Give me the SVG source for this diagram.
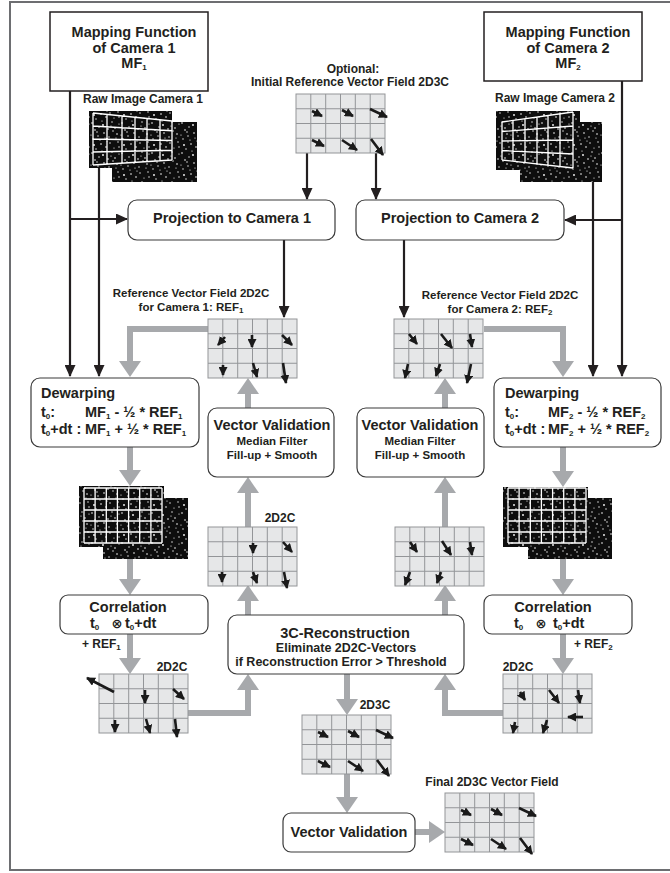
<svg xmlns="http://www.w3.org/2000/svg" xmlns:xlink="http://www.w3.org/1999/xlink" width="670" height="873" viewBox="0 0 670 873">
<style>
text{font-family:"Liberation Sans",Arial,Helvetica,sans-serif;font-weight:bold;fill:#231f20}
.h{font-size:14.5px}
.s{font-size:12px}
.n{font-size:11.5px}
.m{text-anchor:middle}
.sub{font-size:8px}
.box{fill:#fff;stroke:#3a3a3a;stroke-width:1.2}
.sq{fill:#fff;stroke:#231f20;stroke-width:1.5}
.blk{fill:none;stroke:#231f20;stroke-width:2.2;marker-end:url(#ba)}
.gry{fill:none;stroke:#a7a9ac;stroke-width:6;marker-end:url(#gra)}
.va{stroke:#1a1a1a;stroke-width:2.6;marker-end:url(#ga)}
.wg{stroke:#fff;stroke-width:1.3;fill:none}
</style>
<defs>
<marker id="ba" markerUnits="userSpaceOnUse" markerWidth="12" markerHeight="11" viewBox="0 0 12 11" refX="11" refY="5.5" orient="auto"><path d="M0,0L12,5.5L0,11z" fill="#231f20"/></marker>
<marker id="gra" markerUnits="userSpaceOnUse" markerWidth="16" markerHeight="22" viewBox="0 0 16 22" refX="1" refY="11" orient="auto"><path d="M0,0L16,11L0,22z" fill="#a7a9ac"/></marker>
<marker id="ga" markerUnits="userSpaceOnUse" markerWidth="9" markerHeight="9" viewBox="0 0 9 9" refX="8" refY="4.5" orient="auto"><path d="M0,0L9,4.5L0,9z" fill="#1a1a1a"/></marker>
<pattern id="spk" patternUnits="userSpaceOnUse" width="30" height="30">
<rect width="30" height="30" fill="#0d0d0d"/>
<g fill="#fff">
<circle cx="2" cy="3" r="0.8"/><circle cx="7" cy="12" r="0.7"/><circle cx="13" cy="5" r="0.9"/><circle cx="19" cy="17" r="0.7"/><circle cx="25" cy="8" r="0.8"/><circle cx="28" cy="22" r="0.7"/><circle cx="4" cy="25" r="0.9"/><circle cx="10" cy="20" r="0.6"/><circle cx="16" cy="27" r="0.8"/><circle cx="22" cy="2" r="0.7"/><circle cx="27" cy="14" r="0.8"/><circle cx="1" cy="15" r="0.6"/><circle cx="9" cy="7" r="0.7"/><circle cx="14" cy="13" r="0.8"/><circle cx="20" cy="23" r="0.7"/><circle cx="24" cy="28" r="0.6"/><circle cx="6" cy="29" r="0.7"/><circle cx="12" cy="1" r="0.6"/><circle cx="18" cy="9" r="0.8"/><circle cx="29" cy="4" r="0.6"/><circle cx="3" cy="19" r="0.7"/><circle cx="11" cy="24" r="0.8"/><circle cx="17" cy="21" r="0.6"/><circle cx="23" cy="11" r="0.7"/><circle cx="26" cy="18" r="0.6"/><circle cx="8" cy="16" r="0.7"/><circle cx="21" cy="6" r="0.6"/><circle cx="5" cy="10" r="0.8"/><circle cx="29" cy="27" r="0.7"/><circle cx="15" cy="18" r="0.6"/>
</g>
</pattern>
<g id="cells"><rect width="89" height="59" fill="#e6e7e8" stroke="#939598" stroke-width="1"/><path d="M14.8,0V59M29.7,0V59M44.5,0V59M59.3,0V59M74.2,0V59M0,14.75H89M0,29.5H89M0,44.25H89" stroke="#939598" stroke-width="1" fill="none"/></g>
<g id="p3c"><use xlink:href="#cells"/><path class="va" d="M16,17L26,22"/><path class="va" d="M46,16L57,22"/><path class="va" d="M74,15L91,23"/><path class="va" d="M16,46L28,52"/><path class="va" d="M46,46L61,56"/><path class="va" d="M75,45L87,61"/></g>
</defs>

<rect x="10" y="2" width="680" height="868" fill="#fff" stroke="#6d6e71" stroke-width="2"/>

<g id="connectors">
<path class="blk" d="M70,91V376"/>
<path class="blk" d="M70,219H127"/>
<path class="blk" d="M99,168V376"/>
<path class="blk" d="M307,153V199"/>
<path class="blk" d="M376,153V199"/>
<path class="blk" d="M284,240V317"/>
<path class="blk" d="M404,240V317"/>
<path class="blk" d="M622,81V376"/>
<path class="blk" d="M622,220H565"/>
<path class="blk" d="M593,182V376"/>
<path class="gry" d="M208,329H130V362"/>
<path class="gry" d="M248,408V393"/>
<path class="gry" d="M484,329H563V362"/>
<path class="gry" d="M445,408V393"/>
<path class="gry" d="M130,447V471"/>
<path class="gry" d="M130,559V580"/>
<path class="gry" d="M130,634V659"/>
<path class="gry" d="M188,713H248V689"/>
<path class="gry" d="M248,615V600"/>
<path class="gry" d="M248,527V492"/>
<path class="gry" d="M563,447V472"/>
<path class="gry" d="M563,559V580"/>
<path class="gry" d="M563,634V659"/>
<path class="gry" d="M503,713H445V689"/>
<path class="gry" d="M445,615V600"/>
<path class="gry" d="M445,527V492"/>
<path class="gry" d="M347,674V700"/>
<path class="gry" d="M347,774V798"/>
<path class="gry" d="M415,832H430"/>
</g>

<g id="mf1">
<rect class="sq" x="50" y="12" width="158" height="79"/>
<text class="h m" x="134" y="37">Mapping Function</text>
<text class="h m" x="134" y="53">of Camera 1</text>
<text class="h m" x="134" y="68">MF<tspan class="sub" dy="2">1</tspan></text>
</g>

<g id="mf2">
<rect class="sq" x="484" y="12" width="158" height="69"/>
<text class="h m" x="568" y="37">Mapping Function</text>
<text class="h m" x="568" y="53">of Camera 2</text>
<text class="h m" x="568" y="68">MF<tspan class="sub" dy="2">2</tspan></text>
</g>

<g id="raw1">
<text class="s m" x="143" y="103">Raw Image Camera 1</text>
<rect x="112" y="122" width="85" height="60" fill="url(#spk)"/>
<rect x="89" y="111" width="83" height="57" fill="url(#spk)"/>
<path class="wg" d="M93,113V165M107,114.4V164.1M122,115.9V163.2M135,117.3V162.3M147,118.5V161.6M160,119.8V160.8M172,121V160M93,113L172,121M93,126L172,130.75M93,139L172,140.5M93,152L172,150.25M93,165L172,160"/>
</g>

<g id="raw2">
<text class="s m" x="555" y="102">Raw Image Camera 2</text>
<rect x="520" y="122" width="82" height="60" fill="url(#spk)"/>
<rect x="496" y="111" width="84" height="59" fill="url(#spk)"/>
<path class="wg" d="M502,122V160M513,120.45V161.24M525,118.76V162.59M537,117.07V163.94M548,115.52V165.18M560,113.83V166.54M573,112V168M502,122L573,112M502,131.5L573,126M502,141L573,140M502,150.5L573,154M502,160L573,168"/>
</g>

<g id="init3c">
<text class="s m" x="353" y="73">Optional:</text>
<text class="s m" x="350" y="86">Initial Reference Vector Field 2D3C</text>
<use xlink:href="#p3c" transform="translate(296,94)"/>
</g>

<g id="proj1">
<rect class="box" x="128" y="200" width="207" height="40" rx="9"/>
<text class="h m" x="232" y="223">Projection to Camera 1</text>
</g>

<g id="proj2">
<rect class="box" x="356" y="200" width="208" height="40" rx="9"/>
<text class="h m" x="460" y="223">Projection to Camera 2</text>
</g>

<g id="ref1">
<text class="n m" x="191" y="297">Reference Vector Field 2D2C</text>
<text class="n m" x="191" y="310.5">for Camera 1: REF<tspan class="sub" dy="2">1</tspan></text>
<g transform="translate(208,319)">
<use xlink:href="#cells"/>
<path class="va" d="M17,18L10,26"/><path class="va" d="M44,16L44,28"/><path class="va" d="M74,16L84,26"/><path class="va" d="M15,46L15,56"/><path class="va" d="M45,44L49,58"/><path class="va" d="M75,44L78,64"/>
</g>
</g>

<g id="ref2">
<text class="n m" x="500" y="299">Reference Vector Field 2D2C</text>
<text class="n m" x="500" y="312.5">for Camera 2: REF<tspan class="sub" dy="2">2</tspan></text>
<g transform="translate(394,319)">
<use xlink:href="#cells"/>
<path class="va" d="M15,15L23,25"/><path class="va" d="M47,15L58,29"/><path class="va" d="M76,15L78,28"/><path class="va" d="M14,45L11,59"/><path class="va" d="M46,45L42,57"/><path class="va" d="M77,45L73,64"/>
</g>
</g>

<g id="dewarp1">
<rect class="box" x="31" y="378" width="168" height="69" rx="9"/>
<text class="h" x="41" y="398">Dewarping</text>
<text class="h" x="41" y="417">t<tspan class="sub" dy="2">0</tspan><tspan dy="-2">:</tspan><tspan x="85">MF</tspan><tspan class="sub" dy="2">1</tspan><tspan dy="-2"> -  ½ * REF</tspan><tspan class="sub" dy="2">1</tspan></text>
<text class="h" x="41" y="434">t<tspan class="sub" dy="2">0</tspan><tspan dy="-2">+dt :</tspan><tspan x="85">MF</tspan><tspan class="sub" dy="2">1</tspan><tspan dy="-2"> + ½ * REF</tspan><tspan class="sub" dy="2">1</tspan></text>
</g>

<g id="dewarp2">
<rect class="box" x="494" y="378" width="167" height="69" rx="9"/>
<text class="h" x="505" y="398">Dewarping</text>
<text class="h" x="505" y="417">t<tspan class="sub" dy="2">0</tspan><tspan dy="-2">:</tspan><tspan x="548">MF</tspan><tspan class="sub" dy="2">2</tspan><tspan dy="-2"> -  ½ * REF</tspan><tspan class="sub" dy="2">2</tspan></text>
<text class="h" x="505" y="434">t<tspan class="sub" dy="2">0</tspan><tspan dy="-2">+dt :</tspan><tspan x="548">MF</tspan><tspan class="sub" dy="2">2</tspan><tspan dy="-2"> + ½ * REF</tspan><tspan class="sub" dy="2">2</tspan></text>
</g>

<g id="vv1">
<rect class="box" x="208" y="408" width="126" height="69" rx="9"/>
<text class="h m" x="272" y="430">Vector Validation</text>
<text class="n m" x="272" y="445">Median Filter</text>
<text class="n m" x="272" y="458.5">Fill-up + Smooth</text>
</g>

<g id="vv2">
<rect class="box" x="357" y="408" width="127" height="69" rx="9"/>
<text class="h m" x="420" y="430">Vector Validation</text>
<text class="n m" x="420" y="445">Median Filter</text>
<text class="n m" x="420" y="458.5">Fill-up + Smooth</text>
</g>

<g id="dew1img">
<rect x="103" y="498" width="85" height="61" fill="url(#spk)"/>
<rect x="79" y="486" width="85" height="61" fill="url(#spk)"/>
<path class="wg" d="M84,488V543M95.1,488V543M106.3,488V543M117.4,488V543M128.6,488V543M139.7,488V543M150.9,488V543M162,488V543M84,488H162M84,499H162M84,510H162M84,521H162M84,532H162M84,543H162"/>
</g>

<g id="dew2img">
<rect x="528" y="498" width="84" height="61" fill="url(#spk)"/>
<rect x="503" y="487" width="85" height="60" fill="url(#spk)"/>
<path class="wg" d="M508,488V543M519.1,488V543M530.3,488V543M541.4,488V543M552.6,488V543M563.7,488V543M574.9,488V543M586,488V543M508,488H586M508,499H586M508,510H586M508,521H586M508,532H586M508,543H586"/>
</g>

<g id="vf2d2c-mid1">
<text class="s m" x="280" y="522">2D2C</text>
<g transform="translate(208,527)">
<use xlink:href="#cells"/>
<path class="va" d="M45,16L45,26"/><path class="va" d="M75,15L84,25"/><path class="va" d="M14,45L14,55"/><path class="va" d="M45,45L49,56"/><path class="va" d="M76,45L79,61"/>
</g>
</g>

<g id="vf2d2c-mid2">
<g transform="translate(395,527)">
<use xlink:href="#cells"/>
<path class="va" d="M15,15L22,25"/><path class="va" d="M47,14L56,28"/><path class="va" d="M75,15L77,28"/><path class="va" d="M15,45L10,58"/><path class="va" d="M46,45L42,56"/>
</g>
</g>

<g id="corr1">
<rect class="box" x="60" y="595" width="148" height="39" rx="8"/>
<text class="h m" x="128" y="612">Correlation</text>
<text class="h" x="90" y="628">t<tspan class="sub" dy="2">0</tspan></text>
<text x="117" y="628" style="font-family:'DejaVu Sans',sans-serif;font-size:13px;text-anchor:middle">⊗</text>
<text class="h" x="125" y="628">t<tspan class="sub" dy="2">0</tspan><tspan dy="-2">+dt</tspan></text>
</g>

<g id="corr2">
<rect class="box" x="484" y="595" width="148" height="39" rx="8"/>
<text class="h m" x="553" y="612">Correlation</text>
<text class="h" x="514" y="628">t<tspan class="sub" dy="2">0</tspan></text>
<text x="541" y="628" style="font-family:'DejaVu Sans',sans-serif;font-size:13px;text-anchor:middle">⊗</text>
<text class="h" x="553" y="628">t<tspan class="sub" dy="2">0</tspan><tspan dy="-2">+dt</tspan></text>
</g>

<text class="s" x="82" y="648">+ REF<tspan class="sub" dy="2">1</tspan></text>
<text class="s" x="574" y="648">+ REF<tspan class="sub" dy="2">2</tspan></text>

<g id="recon3c">
<rect class="box" x="228" y="615" width="236" height="59" rx="9"/>
<text class="h m" x="345" y="638">3C-Reconstruction</text>
<text class="s m" x="346" y="652" style="font-size:12.5px">Eliminate 2D2C-Vectors</text>
<text class="s m" x="341" y="666" style="font-size:12.5px">if Reconstruction Error &gt; Threshold</text>
</g>

<g id="vf2d2c-bl">
<text class="s m" x="172" y="671">2D2C</text>
<g transform="translate(99,674)">
<use xlink:href="#cells"/>
<path class="va" d="M15,18L-12,4"/><path class="va" d="M46,16L46,29"/><path class="va" d="M74,15L85,25"/><path class="va" d="M16,46L16,58"/><path class="va" d="M47,45L51,59"/><path class="va" d="M76,45L78,63"/>
</g>
</g>

<g id="vf2d2c-br">
<text class="s m" x="518" y="671">2D2C</text>
<g transform="translate(503,674)">
<use xlink:href="#cells"/>
<path class="va" d="M17,18L22,26"/><path class="va" d="M46,16L56,29"/><path class="va" d="M75,16L77,29"/><path class="va" d="M80,43L65,43"/><path class="va" d="M12,48L10,59"/><path class="va" d="M44,46L40,59"/>
</g>
</g>

<g id="vf2d3c">
<text class="s m" x="375" y="709">2D3C</text>
<use xlink:href="#p3c" transform="translate(302,715)"/>
</g>

<g id="vvfinal">
<rect class="box" x="283" y="813" width="132" height="39" rx="8"/>
<text class="h m" x="349" y="837">Vector Validation</text>
</g>

<g id="final">
<text class="s m" x="492" y="786">Final 2D3C Vector Field</text>
<use xlink:href="#p3c" transform="translate(445,793)"/>
</g>
</svg>
